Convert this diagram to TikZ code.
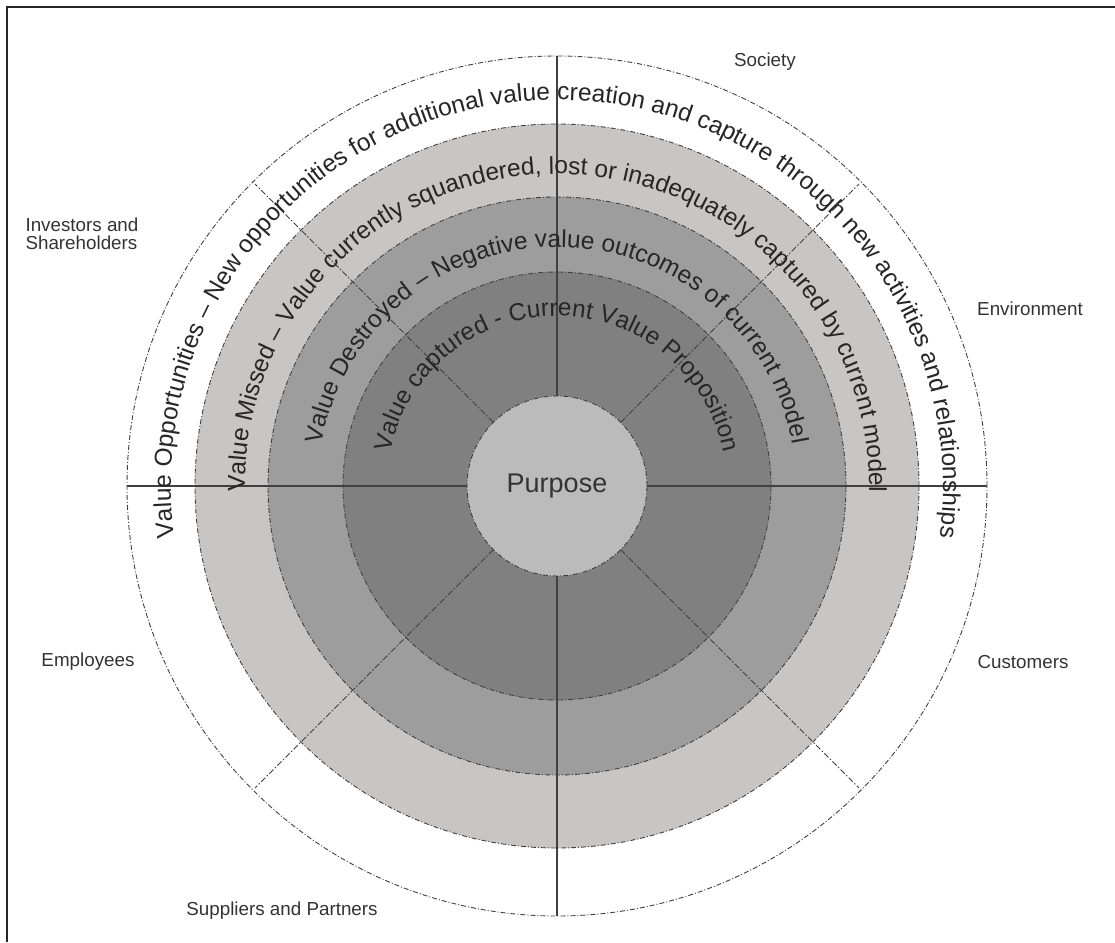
\documentclass[tikz,border=0pt]{standalone}
\usepackage{fontspec}
\setmainfont{Liberation Sans}
\usetikzlibrary{decorations.text}

\definecolor{purposegray}{RGB}{187,187,187}
\definecolor{capturedgray}{RGB}{128,128,128}
\definecolor{destroyedgray}{RGB}{157,157,157}
\definecolor{missedgray}{RGB}{200,197,194}
\newcommand\ringfont{\fontsize{24.5}{26}\selectfont}

\tikzset{
  ringline/.style={draw=black!75, line width=0.9pt, dash pattern=on 5pt off 2pt on 1pt off 2pt},
  spoke/.style={black!75, line width=1pt, dash pattern=on 6pt off 2pt on 1.5pt off 2pt},
  axis/.style={black!75, line width=1.2pt},
  group/.style={text=black!80, font=\fontsize{18.8}{18}\selectfont, align=left},
  ringtext/.style={decorate, decoration={text along path, text align=center,
      text color=black!85, text={|\ringfont|#1}}}
}

\begin{document}
\begin{tikzpicture}[x=1pt,y=1pt]
  \useasboundingbox (-557,-456) rectangle (558,486);
  % frame
  \draw[line width=1.5pt, black!85] (-550,-456) -- (-550,479) -- (558,479);

  % rings, outside in
  \fill[white] (0,0) circle[radius=430];
  \fill[missedgray] (0,0) circle[radius=362];
  \fill[destroyedgray] (0,0) circle[radius=289];
  \fill[capturedgray] (0,0) circle[radius=214];
  \foreach \r in {430,362,289,214}
    \draw[ringline] (0,0) circle[radius=\r];

  % centre
  \node[circle, minimum size=180pt, inner sep=0pt, fill=purposegray, ringline,
    text=black!80, font=\fontsize{27}{30}\selectfont] (purpose) at (0,0) {Purpose};

  % spokes
  \foreach \a in {0,90,180,270}
    \coordinate (rim\a) at (\a:430);
  \foreach \a in {45,135,225,315}
    \coordinate (rim\a) at (\a:427);
  \foreach \a in {0,90,180,270}
    \draw[axis] (purpose.\a) -- (rim\a);
  \foreach \a in {45,135,225,315}
    \draw[spoke] (purpose.\a) -- (rim\a);

  % ring texts
  \path[ringtext={Value Opportunities – New opportunities for additional value creation and capture through new activities and relationships}]
    (200:386) arc[start angle=200, end angle=-20, radius=386];
  \path[ringtext={Value Missed – Value currently squandered, lost or inadequately captured by current model}]
    (190:312) arc[start angle=190, end angle=-10, radius=312];
  \path[ringtext={Value Destroyed – Negative value outcomes of current model}]
    (180:239) arc[start angle=180, end angle=0, radius=239];
  \path[ringtext={Value captured - Current Value Proposition}]
    (180:170) arc[start angle=180, end angle=0, radius=170];

  % stakeholders
  \node[group] (society) at (208,424) {Society};
  \node[group, anchor=west] (investors) at (-535,252) {Investors and\\Shareholders};
  \node[group] (environment) at (473,177) {Environment};
  \node[group] (customers) at (466,-176) {Customers};
  \node[group] (employees) at (-469,-176) {Employees};
  \node[group] (suppliers) at (-275,-425) {Suppliers and Partners};
\end{tikzpicture}
\end{document}
